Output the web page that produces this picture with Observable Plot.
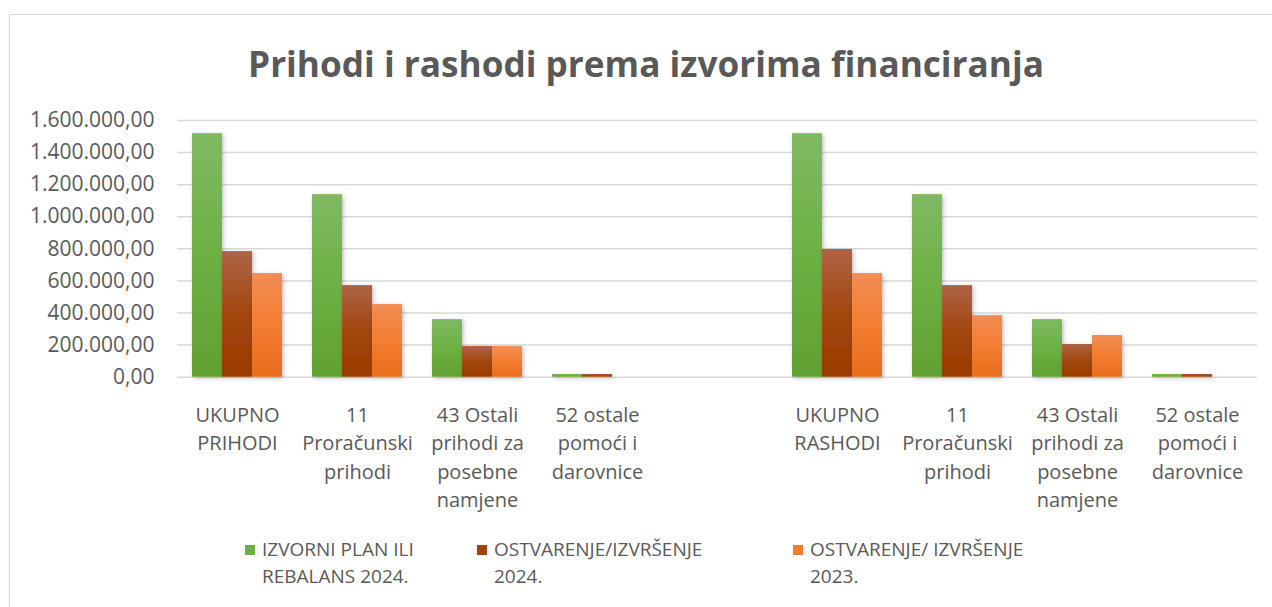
<!DOCTYPE html>
<html>
<head>
<meta charset="utf-8">
<script src="https://cdn.jsdelivr.net/npm/d3@7"></script>
<script src="https://cdn.jsdelivr.net/npm/@observablehq/plot@0.6"></script>
<style>
  html, body { margin: 0; padding: 0; background: #fff; }
  #wrap { position: relative; width: 1272px; height: 607px; overflow: hidden; font-family: "Open Sans", sans-serif; color: #595959; }
  #frame { position: absolute; left: 9px; top: 14px; width: 1400px; height: 800px; border: 1.5px solid #d9d9d9; box-sizing: border-box; }
  #title { position: relative; height: 100px; box-sizing: border-box; padding-top: 38px; line-height: 50px; text-align: center; font-weight: 700; font-size: 35.2px; color: #595959; padding-left: 20px; }
  #chart { position: relative; height: 420px; }
  #legend { position: relative; height: 87px; font-size: 19px; line-height: 27px; }
  .item { position: absolute; top: 16px; white-space: pre-line; padding-left: 17px; }
  .sw { position: absolute; left: 0; top: 9px; width: 10px; height: 10px; }
</style>
</head>
<body>
<div id="wrap">
  <div id="frame"></div>
  <div id="title">Prihodi i rashodi prema izvorima financiranja</div>
  <div id="chart"></div>
  <div id="legend"></div>
</div>
<script>
// ---- data ----
const keys = ["P0", "P11", "P43", "P52", "gap", "R0", "R11", "R43", "R52"];
const categoryLabels = [
  "UKUPNO\nPRIHODI",
  "11\nProračunski\nprihodi",
  "43 Ostali\nprihodi za\nposebne\nnamjene",
  "52 ostale\npomoći i\ndarovnice",
  "",
  "UKUPNO\nRASHODI",
  "11\nProračunski\nprihodi",
  "43 Ostali\nprihodi za\nposebne\nnamjene",
  "52 ostale\npomoći i\ndarovnice"
];
const seriesNames = [
  "IZVORNI PLAN ILI REBALANS 2024.",
  "OSTVARENJE/IZVRŠENJE 2024.",
  "OSTVARENJE/ IZVRŠENJE 2023."
];
const legendLabels = [
  "IZVORNI PLAN ILI\nREBALANS 2024.",
  "OSTVARENJE/IZVRŠENJE\n2024.",
  "OSTVARENJE/ IZVRŠENJE\n2023."
];
const plan2024   = [1518000, 1138000, 359000, 17000, null, 1518000, 1138000, 359000, 17000];
const ostv2024   = [783000,  571000,  191000, 17000, null, 796000,  571000,  204000, 17000];
const ostv2023   = [646000,  453000,  191000, 0,     null, 646000,  384000,  260000, 0];
const yTicks = [0, 200000, 400000, 600000, 800000, 1000000, 1200000, 1400000, 1600000];

// ---- style ----
const seriesColors = ["#6fae45", "#a0420a", "#f07d2e"];
const gradIds = ["gGreen", "gBrown", "gOrange"];
const hr = d3.formatLocale({decimal: ",", thousands: ".", grouping: [3], currency: ["", ""]});
const fmt = hr.format(",.2f");

const W = 1272, H = 420;
const bw = 90; // band width (0.75 of 120px step)

const valueSets = [plan2024, ostv2024, ostv2023];
const barMarks = valueSets.map((vals, i) =>
  Plot.barY(keys, {
    x: keys,
    y: vals,
    fill: `url(#${gradIds[i]})`,
    insetLeft: i * bw / 3,
    insetRight: (2 - i) * bw / 3
  })
);

const svg = Plot.plot({
  width: W,
  height: H,
  marginLeft: 177,
  marginRight: 15,
  marginTop: 20,
  marginBottom: 143.3,
  style: {fontFamily: "Open Sans, sans-serif", color: "#595959", background: "transparent", overflow: "visible"},
  x: {type: "band", domain: keys, paddingInner: 0.25, paddingOuter: 0.125, axis: null},
  y: {domain: [0, 1600000], axis: null},
  marks: [
    Plot.ruleY(yTicks, {stroke: "#d9d9d9", strokeWidth: 1.5}),
    ...barMarks,
    Plot.axisY(yTicks, {tickFormat: fmt, tickSize: 0, tickPadding: 23, fontSize: 21, fill: "#595959"}),
    Plot.text(keys, {
      x: keys,
      text: categoryLabels,
      frameAnchor: "bottom",
      lineAnchor: "top",
      dy: 24.3,
      lineHeight: 1.425,
      fontSize: 20,
      fill: "#595959"
    })
  ]
});

// gradients & shadow
const defs = `<defs>
  <linearGradient id="gGreen" x1="0" y1="0" x2="0" y2="1">
    <stop offset="0" stop-color="#81b962"/><stop offset="0.5" stop-color="#6db043"/><stop offset="1" stop-color="#62a033"/>
  </linearGradient>
  <linearGradient id="gBrown" x1="0" y1="0" x2="0" y2="1">
    <stop offset="0" stop-color="#ae6446"/><stop offset="0.5" stop-color="#a4470e"/><stop offset="1" stop-color="#9a3c00"/>
  </linearGradient>
  <linearGradient id="gOrange" x1="0" y1="0" x2="0" y2="1">
    <stop offset="0" stop-color="#f18d55"/><stop offset="0.5" stop-color="#f47d30"/><stop offset="1" stop-color="#e86d1b"/>
  </linearGradient>
  <filter id="shadow" x="-20%" y="-20%" width="140%" height="140%">
    <feDropShadow dx="1.5" dy="1.5" stdDeviation="2" flood-color="#000" flood-opacity="0.25"/>
  </filter>
</defs>`;
svg.insertAdjacentHTML("afterbegin", defs);
svg.querySelectorAll('g[aria-label="bar"]').forEach(g => g.setAttribute("filter", "url(#shadow)"));
document.getElementById("chart").appendChild(svg);

// legend
const legend = document.getElementById("legend");
const legendLeft = [245, 477, 793];
seriesNames.forEach((name, i) => {
  const it = document.createElement("div");
  it.className = "item";
  it.style.left = legendLeft[i] + "px";
  it.title = name;
  const sw = document.createElement("span");
  sw.className = "sw";
  sw.style.background = seriesColors[i];
  it.appendChild(sw);
  it.appendChild(document.createTextNode(legendLabels[i]));
  legend.appendChild(it);
});
</script>
</body>
</html>
